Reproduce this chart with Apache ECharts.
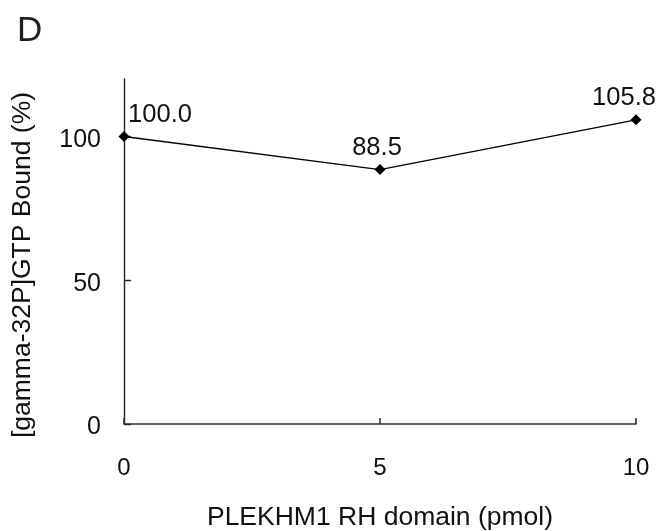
<!DOCTYPE html>
<html>
<head>
<meta charset="utf-8">
<script src="https://cdn.jsdelivr.net/npm/echarts@6/dist/echarts.min.js"></script>
<style>
  html, body { margin: 0; padding: 0; background: #fff; }
  #chart { width: 660px; height: 531px; }
</style>
</head>
<body>
<div id="chart"></div>
<script>
// PLEKHM1 RH domain amount (pmol) and relative GTP binding (%)
const doses = [0, 5, 10];
const bound = [100.0, 88.5, 105.8];
const yTicks = [0, 50, 100];
// horizontal nudge of each value label, in px
const labelShift = [36, -3, -12];

const FONT = '"Liberation Sans", Arial, Helvetica, sans-serif';
const INK = '#111';

const chart = echarts.init(document.getElementById('chart'), null, { renderer: 'canvas' });

const points = doses.map((d, i) => ({
  value: [d, bound[i]],
  label: { offset: [labelShift[i], 0] }
}));

chart.setOption({
  animation: false,
  backgroundColor: '#fff',
  title: {
    text: 'D',
    left: 12,
    top: 9,
    textStyle: { fontFamily: FONT, fontSize: 35, fontWeight: 'normal', color: '#231f20' }
  },
  grid: { left: 124, right: 24, top: 79, bottom: 107, outerBoundsMode: 'none', containLabel: false },
  xAxis: {
    type: 'value',
    min: 0,
    max: 10,
    interval: 5,
    name: 'PLEKHM1 RH domain (pmol)',
    nameLocation: 'middle',
    nameGap: 80,
    nameTextStyle: { fontFamily: FONT, fontSize: 26.5, color: INK },
    axisLine: { show: true, onZero: false, lineStyle: { color: '#333', width: 1.6 } },
    axisTick: { show: true, inside: true, length: 6, lineStyle: { color: '#333', width: 1.6 } },
    axisLabel: { margin: 32, fontFamily: FONT, fontSize: 24, color: INK },
    splitLine: { show: false }
  },
  yAxis: {
    type: 'value',
    min: 0,
    max: 120,
    interval: 50,
    axisLine: { show: true, lineStyle: { color: '#222', width: 1.4 } },
    axisTick: { show: true, inside: true, length: 7, customValues: yTicks, lineStyle: { color: '#222', width: 1.4 } },
    axisLabel: {
      margin: 23, fontFamily: FONT, fontSize: 25, color: INK, customValues: yTicks,
      verticalAlign: 'top', lineHeight: 7
    },
    splitLine: { show: false }
  },
  graphic: [{
    type: 'text',
    x: 23,
    y: 265,
    rotation: Math.PI / 2,
    style: {
      text: '[gamma-32P]GTP Bound (%)',
      font: '26.5px ' + FONT,
      fill: INK,
      align: 'center',
      verticalAlign: 'middle'
    }
  }],
  series: [{
    type: 'line',
    data: points,
    symbol: 'diamond',
    symbolSize: 11,
    showAllSymbol: true,
    lineStyle: { color: '#000', width: 1.3 },
    itemStyle: { color: '#000' },
    label: {
      show: true,
      position: 'top',
      distance: 3,
      fontFamily: FONT,
      fontSize: 25.5,
      color: INK,
      formatter: p => p.value[1].toFixed(1)
    }
  }]
});
</script>
</body>
</html>
